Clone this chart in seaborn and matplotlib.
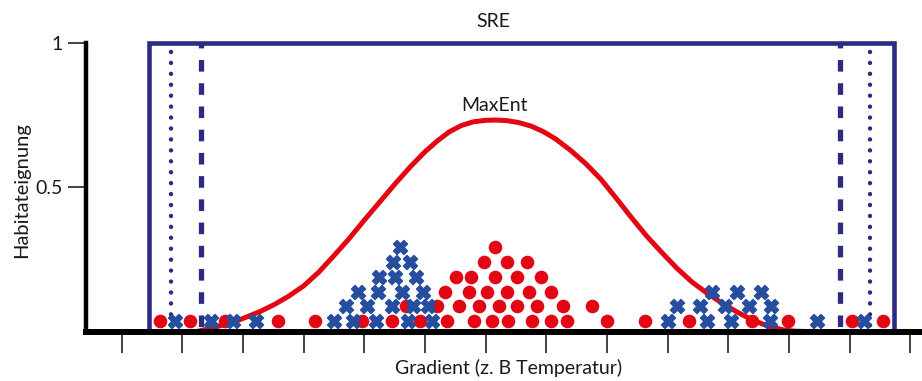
import matplotlib
matplotlib.use("Agg")
import matplotlib.pyplot as plt
import numpy as np
import pandas as pd
import seaborn as sns

# ---------------------------------------------------------------
# Data: positions along the gradient (tick units 0..13)
# ---------------------------------------------------------------
# Presence records (red dots): gradient position and stack level
red_x = [0.63, 1.13, 1.71, 2.57, 3.18, 3.96, 4.45, 4.91, 5.36, 5.81, 6.10,
         6.37, 6.77, 7.07, 7.35, 8.00, 8.63, 9.36, 10.39, 10.99, 12.04, 12.55,
         4.69, 5.20, 5.56, 5.89, 6.22, 6.52, 6.85, 7.28, 7.76,
         5.33, 5.73, 6.03, 6.35, 6.72, 7.08,
         5.51, 5.76, 6.15, 6.51, 6.92,
         5.98, 6.35, 6.69,
         6.15]
red_level = [0] * 22 + [1] * 9 + [2] * 6 + [3] * 5 + [4] * 3 + [5]

# Second set of records (blue crosses)
blue_x = [0.88, 1.48, 1.84, 2.21, 3.50, 3.81, 4.19, 4.72, 5.12, 9.00, 9.65,
          10.04, 10.69, 11.46, 12.24,
          3.70, 4.05, 4.45, 4.80, 5.05, 9.16, 9.53, 9.94, 10.34, 10.70,
          3.90, 4.23, 4.62, 4.97, 9.73, 10.14, 10.54,
          4.24, 4.51, 4.85,
          4.47, 4.75,
          4.59]
blue_level = [0] * 15 + [1] * 10 + [2] * 7 + [3] * 3 + [4] * 2 + [5]

# SRE envelope (suitability 1 inside the range) and inner bounds
sre_x = [0.455, 0.455, 12.739, 12.739]
sre_y = [0.0, 1.0, 1.0, 0.0]
sre_dotted_x = [0.808, 12.338]
sre_dashed_x = [1.303, 11.843]

# MaxEnt response curve
maxent_x = [1.24, 1.40, 1.56, 1.72, 1.90, 2.08, 2.30, 2.52, 2.75, 3.00,
            3.25, 3.50, 3.75, 4.00, 4.25, 4.50, 4.75, 5.00, 5.20, 5.40,
            5.60, 5.80, 6.00, 6.16, 6.35, 6.55, 6.75, 6.95, 7.15, 7.40,
            7.65, 7.90, 8.15, 8.40, 8.65, 8.90, 9.15, 9.40, 9.65, 9.90,
            10.15, 10.40, 10.65, 10.90, 11.10, 11.30]
maxent_y = [0.000, 0.008, 0.016, 0.026, 0.037, 0.052, 0.071, 0.094, 0.122,
            0.158, 0.206, 0.263, 0.322, 0.386, 0.448, 0.510, 0.569, 0.623,
            0.660, 0.692, 0.714, 0.727, 0.732, 0.733, 0.731, 0.724, 0.712,
            0.693, 0.668, 0.628, 0.582, 0.528, 0.463, 0.396, 0.332, 0.275,
            0.220, 0.172, 0.133, 0.098, 0.067, 0.040, 0.019, 0.006, 0.001,
            0.000]

x_ticks = list(range(14))
y_ticks = [0.5, 1.0]
y_tick_labels = ["0.5", "1"]

# ---------------------------------------------------------------
# Styling
# ---------------------------------------------------------------
NAVY = "#2D2A82"
BLUE = "#264E9E"
RED = "#E30613"
TEXT = "#1a1a1a"
BASE, STEP = 0.0365, 0.051   # vertical placement of stacked records

sns.set_style("white")
plt.rcParams["font.family"] = ["Lato", "DejaVu Sans"]

fig = plt.figure(figsize=(9.22, 3.81), dpi=100)
ax = fig.add_axes([85.5 / 922, 49.5 / 381, 836.5 / 922, 288.5 / 381])

# SRE box and inner limits
ax.plot(sre_x, sre_y, color=NAVY, lw=3.3, solid_joinstyle="miter",
        solid_capstyle="butt", clip_on=False, zorder=2)
for xv in sre_dotted_x:
    ax.plot([xv, xv], [1.0, 0.0], color=NAVY, lw=3.2,
            linestyle=(0.45, (0.01, 2.45)), dash_capstyle="round",
            clip_on=False, zorder=2)
for xv in sre_dashed_x:
    ax.plot([xv, xv], [1.0, 0.0], color=NAVY, lw=3.8,
            linestyle=(1.27, (2.2, 2.2)), dash_capstyle="butt",
            clip_on=False, zorder=2)

# Stacked occurrence records
red_df = pd.DataFrame({"x": red_x, "y": BASE + STEP * np.array(red_level)})
blue_df = pd.DataFrame({"x": blue_x, "y": BASE + STEP * np.array(blue_level)})
sns.scatterplot(data=red_df, x="x", y="y", marker="o", s=96, color=RED,
                linewidth=0, ax=ax, zorder=4, clip_on=False)
sns.scatterplot(data=blue_df, x="x", y="y", marker="X", s=100, color=BLUE,
                edgecolor=BLUE, linewidth=1.1, ax=ax, zorder=5, clip_on=False)

# MaxEnt curve
sns.lineplot(x=maxent_x, y=maxent_y, sort=False, color=RED, lw=3.6,
             ax=ax, zorder=3, solid_capstyle="round", solid_joinstyle="round")

# Labels for the two models
ax.text(6.12, 1.073, "SRE", ha="center", va="center", fontsize=14,
        color=TEXT, clip_on=False)
ax.text(6.15, 0.785, "MaxEnt", ha="center", va="center", fontsize=14,
        color=TEXT)

# Axes
ax.set_xlim(-0.597, 13.195)
ax.set_ylim(0, 1)
ax.set_xticks(x_ticks)
ax.set_xticklabels([])
ax.set_yticks(y_ticks)
ax.set_yticklabels(y_tick_labels, fontsize=14, color=TEXT)
ax.tick_params(axis="x", bottom=True, direction="out", length=15, width=1.2,
               color="#222222")
ax.tick_params(axis="y", left=True, direction="out", length=13, width=1.2,
               color="#222222", pad=3.5)
for side in ["top", "right"]:
    ax.spines[side].set_visible(False)
ax.spines["bottom"].set_linewidth(4.3)
ax.spines["left"].set_linewidth(3.2)
for side in ["bottom", "left"]:
    ax.spines[side].set_color("black")
    ax.spines[side].set_zorder(6)

ax.set_xlabel("Gradient (z. B Temperatur)", fontsize=14, color=TEXT)
ax.set_ylabel("Habitateignung", fontsize=14.5, color=TEXT)
ax.xaxis.set_label_coords(0.506, -0.095)
ax.yaxis.set_label_coords(-0.066, 0.49)
ax.patch.set_alpha(0)

fig.savefig("out.png", dpi=100)
